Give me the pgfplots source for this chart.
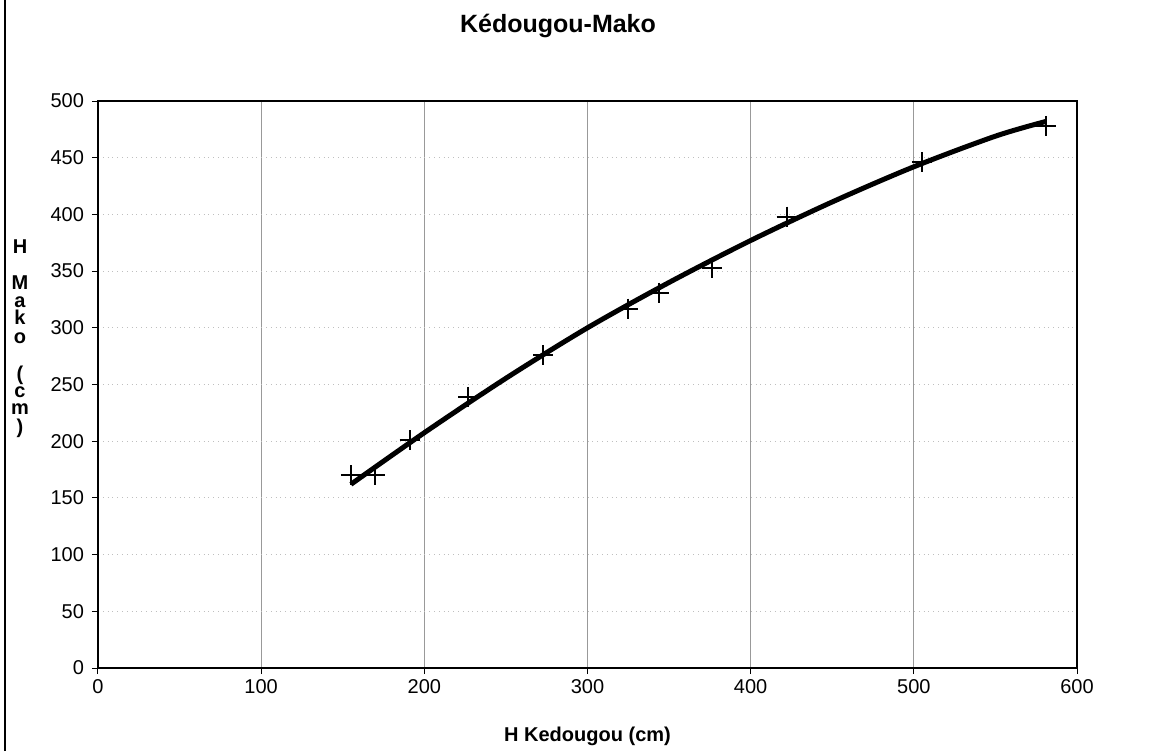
\documentclass[border=0pt]{standalone}
\usepackage{pgfplots}
\pgfplotsset{compat=1.18}
\usepackage{fontspec}
\setmainfont{Liberation Sans}
\begin{document}
\begin{tikzpicture}[x=1pt,y=1pt]
\path[use as bounding box] (0,0) rectangle (576,375.5);
\draw[line width=1pt] (2.5,0) -- (2.5,375.5);
\begin{axis}[
  at={(49pt,41.5pt)}, anchor=south west,
  scale only axis, width=489.5pt, height=283.5pt,
  xmin=0, xmax=600, ymin=0, ymax=500,
  xtick={0,100,...,600}, ytick={0,50,...,500},
  axis line style={line width=1pt},
  tick align=outside, tick pos=left,
  major tick length=3pt,
  tick style={black, line width=0.5pt},
  xmajorgrids, ymajorgrids,
  x grid style={gray!80, line width=0.5pt},
  y grid style={gray!50, dotted, line width=0.5pt},
  /pgf/number format/assume math mode=true,
  ticklabel style={font=\fontsize{10}{12}\selectfont},
  yticklabel style={xshift=-0.5pt},
  xticklabel style={yshift=1pt},
]
\addplot[black, line width=2.5pt, smooth] coordinates {
(155,162) (200,207.5) (250,255.5) (300,300) (350,340) (400,377) (450,411) (500,442) (550,469) (581,482)
};
\addplot[only marks, mark=+, mark size=5pt, black, line width=1pt] coordinates {
(155,170) (170,170) (191,201) (227,239) (273,276) (325,317) (344,331) (376,353) (422,398) (505,446) (581,478)
};
\end{axis}
\node[font=\bfseries\fontsize{12.5}{15}\selectfont] at (279,362.5) {Kédougou-Mako};
\node[font=\bfseries\fontsize{10}{12}\selectfont] at (293.75,7.5) {H Kedougou (cm)};
\tikzset{ylet/.style={font=\bfseries\fontsize{10}{12}\selectfont, anchor=base, inner sep=0pt}}
\node[ylet] at (10,248.5) {H};
\node[ylet] at (10,230.5) {M};
\node[ylet] at (10,221.75) {a};
\node[ylet] at (10,213) {k};
\node[ylet] at (10,204) {o};
\node[ylet] at (10,185.5) {(};
\node[ylet] at (10,176.75) {c};
\node[ylet] at (10,168) {m};
\node[ylet] at (10,159) {)};
\end{tikzpicture}
\end{document}
